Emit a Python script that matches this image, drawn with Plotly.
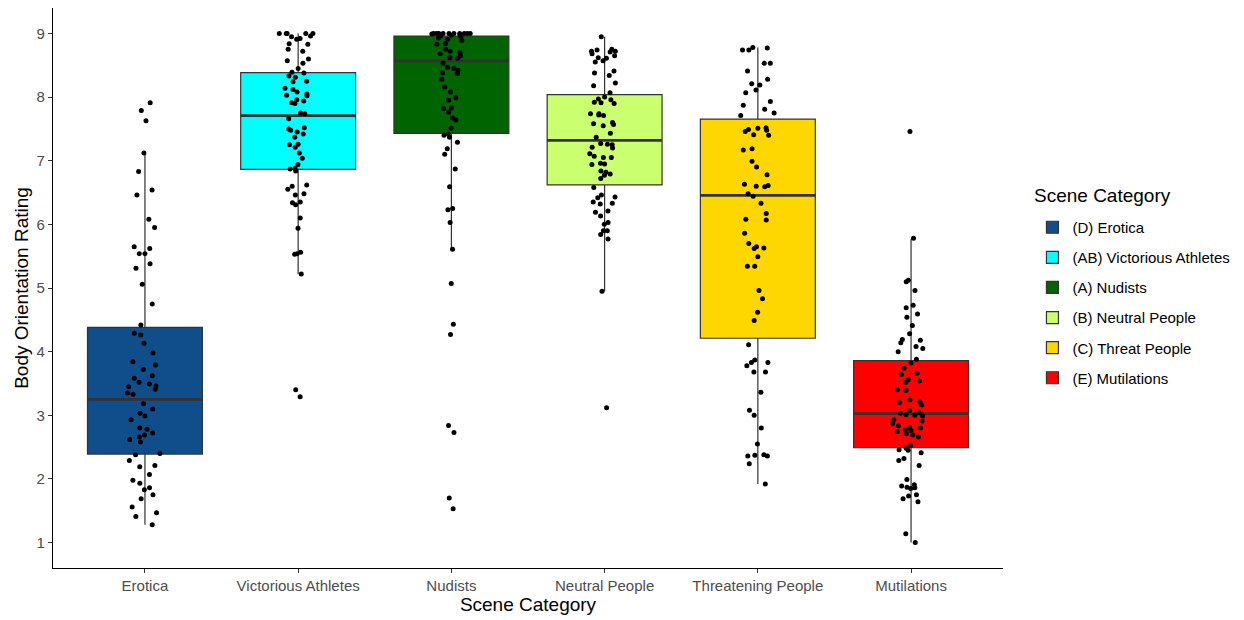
import plotly.graph_objects as go

# Scene categories (x axis) and their legend labels
categories = ["Erotica", "Victorious Athletes", "Nudists", "Neutral People",
              "Threatening People", "Mutilations"]
legend_names = ["(D) Erotica", "(AB) Victorious Athletes", "(A) Nudists",
                "(B) Neutral People", "(C) Threat People", "(E) Mutilations"]
fill_colors = ["#104E8B", "#00FFFF", "#006400", "#CAFF70", "#FFD700", "#FF0000"]

# Box summary statistics per category
q1 = [2.39, 6.865, 7.43, 6.62, 4.21, 2.49]
median = [3.25, 7.71, 8.57, 7.32, 6.455, 3.025]
q3 = [4.38, 8.385, 8.96, 8.04, 7.655, 3.86]
lower_whisker = [1.28, 5.22, 5.61, 4.95, 1.92, 1.0]
upper_whisker = [7.11, 9.0, 9.0, 8.95, 8.78, 5.77]

# Individual picture ratings per category
erotica = [7.91, 7.79, 7.63, 7.12, 6.83, 6.54, 6.46, 6.08, 5.95, 5.65, 5.62, 5.54,
           5.54, 5.38, 5.31, 5.06, 4.75, 4.42, 4.29, 4.26, 4.13, 3.98, 3.84, 3.79,
           3.72, 3.62, 3.58, 3.52, 3.49, 3.46, 3.45, 3.41, 3.35, 3.33, 3.18, 3.10,
           3.03, 2.99, 2.93, 2.80, 2.78, 2.72, 2.69, 2.66, 2.62, 2.58, 2.40, 2.38,
           2.29, 2.21, 2.19, 2.07, 1.98, 1.93, 1.86, 1.83, 1.75, 1.69, 1.56, 1.47,
           1.41, 1.28]
victorious = [9.0, 9.0, 9.0, 9.0, 9.0, 8.96, 8.95, 8.92, 8.91, 8.84, 8.83, 8.75,
              8.72, 8.60, 8.57, 8.53, 8.45, 8.39, 8.38, 8.33, 8.31, 8.25, 8.24, 8.14,
              8.12, 8.08, 8.05, 8.03, 8.02, 7.96, 7.94, 7.91, 7.90, 7.75, 7.74, 7.66,
              7.52, 7.50, 7.48, 7.45, 7.42, 7.37, 7.26, 7.25, 7.21, 7.12, 7.04, 6.94,
              6.88, 6.87, 6.84, 6.62, 6.60, 6.55, 6.48, 6.46, 6.35, 6.34, 6.31, 6.10,
              5.94, 5.56, 5.54, 5.53, 5.22, 3.40, 3.29]
nudists = [9.0, 9.0, 9.0, 9.0, 9.0, 9.0, 9.0, 9.0, 9.0, 9.0, 8.99, 8.98, 8.97,
           8.96, 8.95, 8.93, 8.91, 8.89, 8.84, 8.83, 8.75, 8.72, 8.70, 8.68, 8.65,
           8.62, 8.61, 8.53, 8.47, 8.45, 8.42, 8.38, 8.37, 8.28, 8.16, 8.08, 7.99,
           7.95, 7.83, 7.82, 7.76, 7.67, 7.64, 7.51, 7.42, 7.40, 7.37, 7.29, 7.19,
           7.10, 6.87, 6.59, 6.25, 6.23, 6.03, 5.61, 5.07, 4.43, 4.27, 2.84, 2.73,
           1.70, 1.53]
neutral = [8.95, 8.75, 8.74, 8.72, 8.72, 8.71, 8.68, 8.65, 8.62, 8.61, 8.57, 8.55,
           8.41, 8.38, 8.34, 8.22, 8.18, 8.07, 8.00, 7.97, 7.96, 7.92, 7.91, 7.90,
           7.74, 7.74, 7.72, 7.71, 7.60, 7.58, 7.57, 7.55, 7.43, 7.37, 7.27, 7.26,
           7.25, 7.21, 7.20, 7.11, 7.07, 7.05, 7.05, 6.96, 6.95, 6.94, 6.84, 6.82,
           6.79, 6.77, 6.72, 6.58, 6.46, 6.43, 6.42, 6.35, 6.33, 6.32, 6.21, 6.19,
           6.13, 6.03, 6.00, 5.90, 5.90, 5.84, 5.77, 4.95, 3.12]
threatening = [8.78, 8.77, 8.74, 8.74, 8.53, 8.53, 8.41, 8.28, 8.21, 8.19, 8.11,
               8.07, 7.93, 7.87, 7.81, 7.75, 7.71, 7.52, 7.51, 7.49, 7.48, 7.46,
               7.41, 7.40, 7.19, 7.17, 6.99, 6.90, 6.78, 6.63, 6.61, 6.60, 6.59,
               6.48, 6.44, 6.33, 6.17, 6.08, 6.07, 5.86, 5.70, 5.65, 5.63, 5.62,
               5.49, 5.34, 5.34, 4.96, 4.83, 4.62, 4.49, 4.11, 3.87, 3.83, 3.83,
               3.78, 3.68, 3.68, 3.36, 3.08, 3.00, 2.80, 2.55, 2.38, 2.37, 2.36,
               2.36, 2.24, 1.92]
mutilations = [7.46, 5.78, 5.12, 5.10, 4.96, 4.73, 4.69, 4.59, 4.54, 4.41, 4.28,
               4.19, 4.18, 4.14, 4.08, 4.05, 4.00, 3.88, 3.82, 3.74, 3.66, 3.64,
               3.56, 3.54, 3.52, 3.40, 3.39, 3.24, 3.21, 3.20, 3.16, 3.07, 3.04,
               3.03, 3.01, 3.00, 2.99, 2.93, 2.91, 2.87, 2.83, 2.81, 2.80, 2.77,
               2.76, 2.74, 2.71, 2.69, 2.66, 2.53, 2.48, 2.46, 2.45, 2.41, 2.32,
               2.29, 2.21, 1.99, 1.91, 1.89, 1.87, 1.86, 1.85, 1.75, 1.73, 1.69,
               1.64, 1.14, 1.0]
ratings = [erotica, victorious, nudists, neutral, threatening, mutilations]

FONT = "Liberation Sans, Arial, sans-serif"
BOX_WIDTH = 0.75

fig = go.Figure()

# Filled boxes with whiskers
for i, cat in enumerate(categories):
    fig.add_trace(go.Box(
        x=[cat], q1=[q1[i]], median=[median[i]], q3=[q3[i]],
        lowerfence=[lower_whisker[i]], upperfence=[upper_whisker[i]],
        name=legend_names[i], legendgroup=legend_names[i],
        fillcolor=fill_colors[i], line=dict(color="#333333", width=1.2),
        whiskerwidth=0, width=BOX_WIDTH, boxpoints=False, hoverinfo="skip",
    ))

# Heavier median bar drawn over each box
for i, cat in enumerate(categories):
    m = median[i]
    fig.add_trace(go.Box(
        x=[cat], q1=[m], median=[m], q3=[m], lowerfence=[m], upperfence=[m],
        fillcolor="rgba(0,0,0,0)", line=dict(color="#333333", width=2.8),
        whiskerwidth=0, width=BOX_WIDTH, boxpoints=False, showlegend=False,
        hoverinfo="skip",
    ))

# Jittered individual ratings
for i, cat in enumerate(categories):
    fig.add_trace(go.Box(
        x=[cat] * len(ratings[i]), y=ratings[i],
        boxpoints="all", jitter=0.35, pointpos=0, width=BOX_WIDTH,
        fillcolor="rgba(0,0,0,0)", line=dict(color="rgba(0,0,0,0)", width=0),
        marker=dict(color="black", size=5), showlegend=False, hoverinfo="y",
    ))

axis_common = dict(
    showline=True, linecolor="black", linewidth=1.1, mirror=False,
    ticks="outside", ticklen=4, tickwidth=1.1, tickcolor="#333333",
    tickfont=dict(family=FONT, size=15, color="#4D4D4D"),
    showgrid=False, zeroline=False,
)

fig.update_layout(
    width=1244, height=620,
    margin=dict(l=53, r=241, t=8, b=52),
    paper_bgcolor="white", plot_bgcolor="white",
    boxmode="overlay",
    font=dict(family=FONT, color="black"),
    xaxis=dict(
        type="category", categoryorder="array", categoryarray=categories,
        range=[-0.6, 5.6],
        title=dict(text="Scene Category", font=dict(family=FONT, size=19, color="black"),
                   standoff=3),
        **axis_common,
    ),
    yaxis=dict(
        range=[0.6, 9.4], tick0=1, dtick=1,
        title=dict(text="Body Orientation Rating",
                   font=dict(family=FONT, size=19, color="black"), standoff=2),
        **axis_common,
    ),
    legend=dict(
        x=1.031, y=0.6375, xanchor="left", yanchor="top",
        font=dict(family=FONT, size=15, color="black"),
        tracegroupgap=7.6, bgcolor="rgba(0,0,0,0)",
    ),
    showlegend=True,
    annotations=[dict(
        text="Scene Category", xref="paper", yref="paper",
        x=1.03, y=(568 - 195) / 560, xanchor="left", yanchor="middle",
        showarrow=False, font=dict(family=FONT, size=19, color="black"),
    )],
)

fig.write_html("out.html")
